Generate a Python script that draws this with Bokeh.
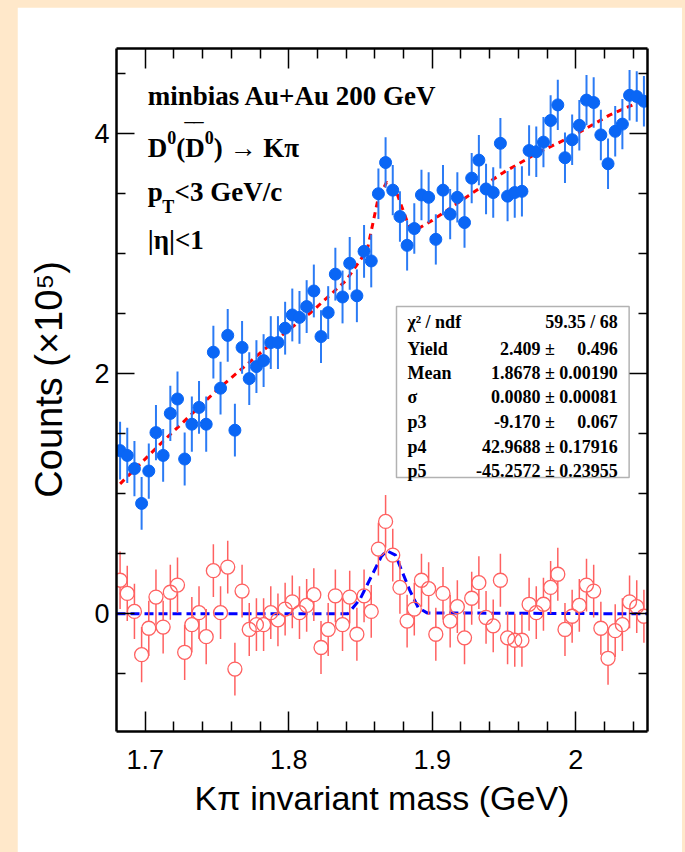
import numpy as np
from bokeh.plotting import figure
from bokeh.models import (Label, BoxAnnotation, LinearAxis, Range1d, FixedTicker,
                          ColumnDataSource, Spacer)
from bokeh.layouts import row, column
from bokeh.embed import file_html
from bokeh.resources import INLINE

# ---------------- data ----------------
mass = [1.6825, 1.6875, 1.6925, 1.6975, 1.7025, 1.7075, 1.7125, 1.7175, 1.7225, 1.7275,
        1.7325, 1.7375, 1.7425, 1.7475, 1.7525, 1.7575, 1.7625, 1.7675, 1.7725, 1.7775,
        1.7825, 1.7875, 1.7925, 1.7975, 1.8025, 1.8075, 1.8125, 1.8175, 1.8225, 1.8275,
        1.8325, 1.8375, 1.8425, 1.8475, 1.8525, 1.8575, 1.8625, 1.8675, 1.8725, 1.8775,
        1.8825, 1.8875, 1.8925, 1.8975, 1.9025, 1.9075, 1.9125, 1.9175, 1.9225, 1.9275,
        1.9325, 1.9375, 1.9425, 1.9475, 1.9525, 1.9575, 1.9625, 1.9675, 1.9725, 1.9775,
        1.9825, 1.9875, 1.9925, 1.9975, 2.0025, 2.0075, 2.0125, 2.0175, 2.0225, 2.0275,
        2.0325, 2.0375, 2.0425, 2.0475]

same_event = [1.36, 1.32, 1.21, 0.92, 1.19, 1.51, 1.32, 1.67, 1.79, 1.29,
              1.58, 1.72, 1.58, 2.18, 1.88, 2.32, 1.53, 2.22, 1.96, 2.06,
              2.11, 2.26, 2.26, 2.38, 2.49, 2.47, 2.56, 2.69, 2.31, 2.51,
              2.83, 2.64, 2.92, 2.65, 3.02, 2.94, 3.50, 3.76, 3.53, 3.31,
              3.07, 3.21, 3.49, 3.47, 3.12, 3.53, 3.33, 3.47, 3.26, 3.63,
              3.78, 3.54, 3.51, 3.92, 3.48, 3.51, 3.52, 3.86, 3.85, 3.93,
              4.11, 4.24, 3.80, 3.95, 4.07, 4.28, 4.26, 3.99, 3.75, 4.02,
              4.08, 4.32, 4.31, 4.27]
same_event_err = [0.24, 0.23, 0.23, 0.22, 0.23, 0.23, 0.22, 0.23, 0.23, 0.22,
                  0.23, 0.22, 0.23, 0.22, 0.22, 0.22, 0.22, 0.22, 0.22, 0.22,
                  0.22, 0.22, 0.22, 0.22, 0.22, 0.22, 0.22, 0.22, 0.22, 0.22,
                  0.22, 0.22, 0.22, 0.22, 0.22, 0.22, 0.21, 0.21, 0.21, 0.21,
                  0.21, 0.21, 0.21, 0.21, 0.21, 0.21, 0.21, 0.21, 0.21, 0.21,
                  0.21, 0.21, 0.21, 0.21, 0.21, 0.21, 0.21, 0.21, 0.21, 0.21,
                  0.21, 0.21, 0.21, 0.21, 0.21, 0.21, 0.21, 0.21, 0.21, 0.21,
                  0.21, 0.21, 0.21, 0.21]

subtracted = [0.28, 0.17, 0.02, -0.34, -0.12, 0.14, -0.11, 0.18, 0.24, -0.32,
              -0.09, 0.01, -0.19, 0.36, 0.01, 0.39, -0.46, 0.19, -0.13, -0.09,
              -0.09, 0.01, -0.05, 0.04, 0.10, 0.01, 0.07, 0.16, -0.28, -0.13,
              0.15, -0.09, 0.14, -0.17, 0.15, 0.02, 0.54, 0.77, 0.49, 0.22,
              -0.06, 0.04, 0.28, 0.21, -0.17, 0.17, -0.06, 0.06, -0.20, 0.13,
              0.26, -0.03, -0.10, 0.28, -0.20, -0.22, -0.22, 0.08, 0.01, 0.08,
              0.22, 0.33, -0.13, -0.02, 0.07, 0.24, 0.19, -0.12, -0.37, -0.14,
              -0.09, 0.10, 0.06, -0.02]
subtracted_err = [0.24, 0.23, 0.23, 0.23, 0.23, 0.23, 0.22, 0.23, 0.23, 0.23,
                  0.23, 0.22, 0.23, 0.22, 0.22, 0.22, 0.22, 0.22, 0.22, 0.22,
                  0.22, 0.22, 0.22, 0.22, 0.22, 0.22, 0.22, 0.22, 0.22, 0.22,
                  0.22, 0.22, 0.22, 0.22, 0.22, 0.22, 0.22, 0.22, 0.22, 0.22,
                  0.22, 0.22, 0.22, 0.22, 0.22, 0.22, 0.22, 0.22, 0.22, 0.22,
                  0.22, 0.22, 0.22, 0.22, 0.22, 0.22, 0.22, 0.22, 0.22, 0.22,
                  0.22, 0.22, 0.22, 0.22, 0.22, 0.22, 0.22, 0.22, 0.22, 0.22,
                  0.22, 0.22, 0.22, 0.22]

# total fit (signal + background) as drawn
fit_total_x = [1.6825, 1.713, 1.7497, 1.7863, 1.8156, 1.84, 1.8547, 1.862, 1.8682,
               1.8743, 1.878, 1.884, 1.89, 1.90, 1.9255, 1.95, 1.9744, 1.9988,
               2.0232, 2.0477]
fit_total_y = [1.083, 1.444, 1.861, 2.236, 2.513, 2.778, 3.03, 3.444, 3.597,
               3.54, 3.417, 3.222, 3.208, 3.278, 3.486, 3.68, 3.847, 3.986,
               4.153, 4.283]
# signal-only fit as drawn
fit_sig_x = [1.6800, 1.8413, 1.8498, 1.8645, 1.8682, 1.8744, 1.8842, 1.8903, 1.8964, 2.0500]
fit_sig_y = [0.0, 0.0, 0.125, 0.477, 0.527, 0.49, 0.20, 0.05, 0.008, 0.0]

x_major = [1.7, 1.8, 1.9, 2.0]
x_minor = [1.72, 1.74, 1.76, 1.78, 1.82, 1.84, 1.86, 1.88, 1.92, 1.94, 1.96, 1.98, 2.02, 2.04]
y_major = [0, 2, 4]
y_minor = [-0.5, 0.5, 1.0, 1.5, 2.5, 3.0, 3.5, 4.5]

NB = "\u00a0"
stats_names = ["\u03c7\u00b2 / ndf", "Yield", "Mean", "\u03c3", "p3", "p4", "p5"]
stats_values = ["59.35 / 68",
                "2.409" + NB + "\u00b1" + NB * 5 + "0.496",
                "1.8678" + NB + "\u00b1" + NB + "0.00190",
                "0.0080" + NB + "\u00b1" + NB + "0.00081",
                "-9.170" + NB + "\u00b1" + NB * 5 + "0.067",
                "42.9688" + NB + "\u00b1" + NB + "0.17916",
                "-45.2572" + NB + "\u00b1" + NB + "0.23955"]

# ---------------- figure ----------------
BEIGE = "#FFE8CA"
p = figure(width=665, height=845, output_backend="svg", toolbar_location=None,
           x_range=Range1d(1.68, 2.05), y_range=Range1d(-0.98, 4.71),
           min_border_left=99, min_border_right=35, min_border_top=41,
           min_border_bottom=121, background_fill_color="white",
           border_fill_color="white", outline_line_color=None)
p.xgrid.visible = False
p.ygrid.visible = False

def style_axis(ax, ticks, minors, show_labels):
    ax.ticker = FixedTicker(ticks=ticks, minor_ticks=minors)
    ax.axis_line_color = "black"
    ax.axis_line_width = 2.5
    ax.major_tick_line_color = "black"
    ax.major_tick_line_width = 1.5
    ax.minor_tick_line_color = "black"
    ax.minor_tick_line_width = 1.5
    ax.major_tick_out = 0
    ax.minor_tick_out = 0
    ax.major_label_text_font = "Liberation Sans"
    ax.major_label_text_font_size = "27px"
    ax.major_label_text_color = "black"
    if not show_labels:
        ax.major_label_overrides = {t: "" for t in ticks}
        ax.major_label_standoff = 0

xa = p.xaxis[0]
style_axis(xa, x_major, x_minor, True)
xa.major_tick_in = 20
xa.minor_tick_in = 10
xa.major_label_standoff = 18
xa.axis_label = "K\u03c0 invariant mass (GeV)"
xa.axis_label_text_font = "Liberation Sans"
xa.axis_label_text_font_size = "34px"
xa.axis_label_text_font_style = "normal"
xa.axis_label_text_color = "black"
xa.axis_label_standoff = 7

ya = p.yaxis[0]
style_axis(ya, y_major, y_minor, True)
ya.major_tick_in = 18
ya.minor_tick_in = 9
ya.major_label_standoff = 7
# leading no-break spaces push the title towards the upper end, as ROOT does
ya.axis_label = NB * 2 + "Counts (\u00d710\u2075)"
ya.axis_label_text_font = "Liberation Sans"
ya.axis_label_text_font_size = "38px"
ya.axis_label_text_font_style = "normal"
ya.axis_label_text_color = "black"
ya.axis_label_standoff = 21

xt = LinearAxis()
style_axis(xt, x_major, x_minor, False)
xt.major_tick_in = 20
xt.minor_tick_in = 10
p.add_layout(xt, "above")
yr = LinearAxis()
style_axis(yr, y_major, y_minor, False)
yr.major_tick_in = 18
yr.minor_tick_in = 9
p.add_layout(yr, "right")

# ---------------- fits ----------------
p.line(fit_total_x, fit_total_y, line_color="#FF0000", line_width=3, line_dash="6 5")

# ---------------- same-event (blue) ----------------
blue = "#0A66F5"
se = np.array(same_event); see = np.array(same_event_err)
src_b = ColumnDataSource(dict(x=mass, y=same_event, lo=se - see, hi=se + see))
p.segment(x0="x", y0="lo", x1="x", y1="hi", source=src_b, line_color="#2B7BF5", line_width=2)
p.scatter(x="x", y="y", source=src_b, size=12, marker="circle", fill_color=blue, line_color=blue)

# ---------------- subtracted (red, open) ----------------
red = "#FF6161"
r_mark = 0.056
su = np.array(subtracted); sue = np.array(subtracted_err)
src_r = ColumnDataSource(dict(x=mass, y=subtracted, lo1=su - sue, hi1=su - r_mark,
                              lo2=su + r_mark, hi2=su + sue))
p.line(fit_sig_x, fit_sig_y, line_color="#0000FF", line_width=3, line_dash="9 5")
p.segment(x0="x", y0="lo1", x1="x", y1="hi1", source=src_r, line_color=red, line_width=1.5)
p.segment(x0="x", y0="lo2", x1="x", y1="hi2", source=src_r, line_color=red, line_width=1.5)
p.scatter(x="x", y="y", source=src_r, size=14, marker="circle", fill_color=None,
          line_color=red, line_width=1.3)

# ---------------- text ----------------
SERIF = "Liberation Serif"
def lab(x, y, t, size, **kw):
    p.add_layout(Label(x=x, y=y, text=t, text_font=SERIF, text_font_size=size,
                       text_font_style="bold", text_color="black",
                       text_baseline="alphabetic", **kw))

lab(1.70178, 4.311, "minbias Au+Au 200 GeV", "27px")
# D0 (D0bar) -> K pi
lab(1.70178, 3.883, "D", "27px")
lab(1.71536, 3.969, "0", "18px")
lab(1.72162, 3.883, "(D", "27px")
lab(1.74146, 3.969, "0", "18px")
lab(1.74772, 3.883, ") \u2192 K\u03c0", "27px")
lab(1.7277, 3.986, "\u203e\u203e", "27px")
# pT < 3 GeV/c
lab(1.70178, 3.513, "p", "27px")
lab(1.71190, 3.386, "T", "18px")
lab(1.72050, 3.513, "<3 GeV/c", "27px")
lab(1.70178, 3.111, "|\u03b7|<1", "27px")

# stats box
p.add_layout(BoxAnnotation(left=1.8751, right=2.0372, bottom=1.136, top=2.561,
                           fill_color="white", fill_alpha=1.0, line_color="black",
                           line_width=1.5))
stat_y = [2.43, 2.2025, 2.0025, 1.805, 1.5967, 1.394, 1.194]
for name, val, yy in zip(stats_names, stats_values, stat_y):
    lab(1.8827, yy, name, "18px")
    lab(2.0293, yy, val, "18px", text_align="right")

layout = row(Spacer(width=17, height=852),
             column(Spacer(width=665, height=7), p),
             Spacer(width=3, height=852),
             styles={"background-color": BEIGE})

html = file_html(layout, INLINE, title="D0 signal")
open("out.html", "w").write(html)
